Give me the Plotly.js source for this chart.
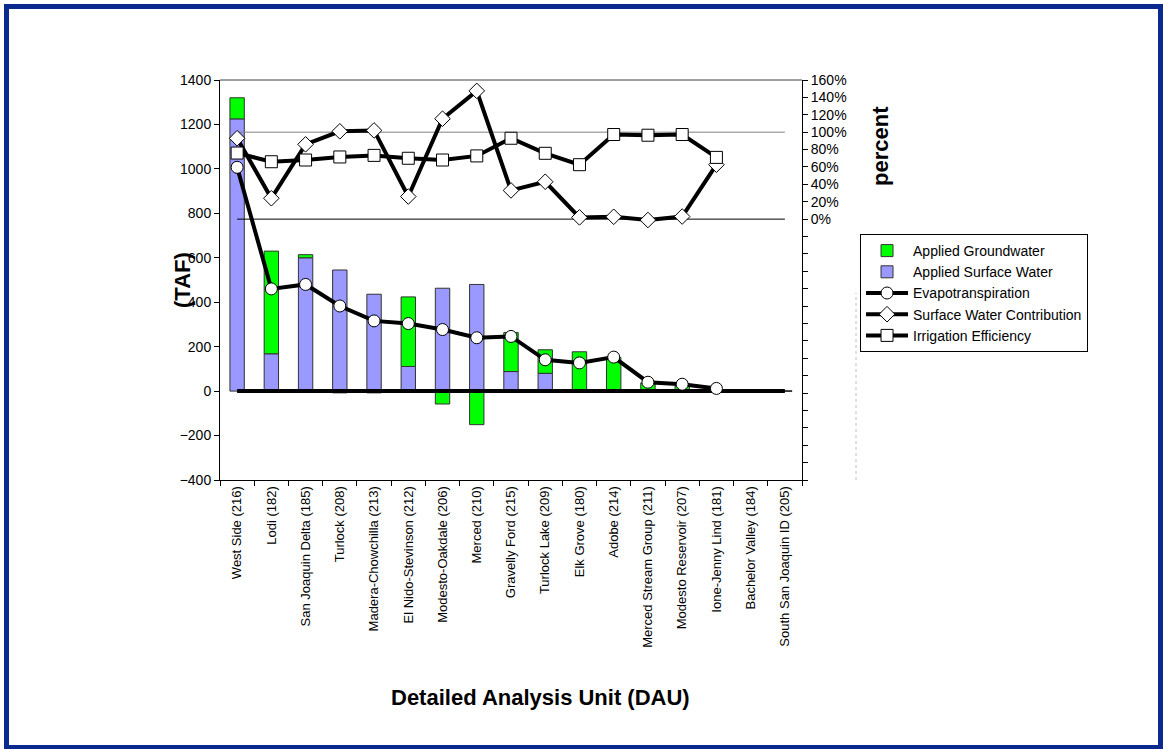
<!DOCTYPE html>
<html>
<head>
<meta charset="utf-8">
<script src="https://cdn.plot.ly/plotly-3.0.1.min.js"></script>
<style>
html,body{margin:0;padding:0;background:#fff;}
#chart{width:1164px;height:749px;}
</style>
</head>
<body>
<div id="chart"></div>
<script>
// Categories (DAU)
const categories = [
  "West Side (216)", "Lodi (182)", "San Joaquin Delta (185)", "Turlock (208)",
  "Madera-Chowchilla (213)", "El Nido-Stevinson (212)", "Modesto-Oakdale (206)",
  "Merced (210)", "Gravelly Ford (215)", "Turlock Lake (209)", "Elk Grove (180)",
  "Adobe (214)", "Merced Stream Group (211)", "Modesto Reservoir (207)",
  "Ione-Jenny Lind (181)", "Bachelor Valley (184)", "South San Joaquin ID (205)"
];
// Applied Surface Water (TAF)
const surfaceWater = [1225, 168, 600, 545, 436, 111, 463, 480, 88, 80, 0, 0, 0, 0, 0, 0, 0];
// Applied Groundwater (TAF)
const groundwater = [95, 462, 14, -8, -8, 313, -58, -151, 176, 106, 177, 152, 37, 22, 5, 0, 0];
// Evapotranspiration (TAF)
const evapotranspiration = [1007, 460, 480, 383, 316, 304, 277, 240, 246, 141, 127, 153, 40, 31, 12, null, null];
// Surface Water Contribution (fraction)
const surfaceWaterContribution = [0.93, 0.24, 0.86, 1.01, 1.02, 0.26, 1.155, 1.475, 0.33, 0.43, 0.02, 0.027, -0.01, 0.03, 0.626, null, null];
// Irrigation Efficiency (fraction)
const irrigationEfficiency = [0.76, 0.66, 0.68, 0.715, 0.733, 0.70, 0.68, 0.727, 0.93, 0.757, 0.626, 0.973, 0.965, 0.973, 0.71, null, null];
// Reference lines
const zeroTAF = categories.map(() => 0);
const ref100 = categories.map(() => 1.0);
const ref0 = categories.map(() => 0.0);
// Right axis ticks
const pctTickVals = [];
for (let i = -15; i <= 8; i++) pctTickVals.push(Math.round(i * 20) / 100);
const pctTickText = pctTickVals.map(v => v >= 0 ? Math.round(v * 100) + "%" : "");

const FONT = "Liberation Sans, Arial, sans-serif";

const traces = [
  {
    type: "bar", name: "Applied Surface Water", x: categories, y: surfaceWater,
    marker: {color: "#9999ff", line: {color: "#333333", width: 1}},
    width: 0.42, legendrank: 2, yaxis: "y"
  },
  {
    type: "bar", name: "Applied Groundwater", x: categories, y: groundwater,
    marker: {color: "#00ff00", line: {color: "#333333", width: 1}},
    width: 0.42, legendrank: 1, yaxis: "y"
  },
  {
    type: "scatter", mode: "lines", x: categories, y: zeroTAF, showlegend: false,
    line: {color: "#000000", width: 4}, hoverinfo: "skip", yaxis: "y"
  },
  {
    type: "scatter", mode: "lines+markers", name: "Evapotranspiration", x: categories, y: evapotranspiration,
    line: {color: "#000000", width: 4},
    marker: {symbol: "circle", size: 12, color: "#ffffff", line: {color: "#000000", width: 1}},
    legendrank: 3, yaxis: "y"
  },
  {
    type: "scatter", mode: "lines", x: categories, y: ref100, showlegend: false,
    line: {color: "#808080", width: 1}, hoverinfo: "skip", yaxis: "y2"
  },
  {
    type: "scatter", mode: "lines", x: categories, y: ref0, showlegend: false,
    line: {color: "#000000", width: 1}, hoverinfo: "skip", yaxis: "y2"
  },
  {
    type: "scatter", mode: "lines+markers", name: "Surface Water Contribution", x: categories, y: surfaceWaterContribution,
    line: {color: "#000000", width: 4},
    marker: {symbol: "diamond", size: 12, color: "#ffffff", line: {color: "#000000", width: 1}},
    legendrank: 4, yaxis: "y2"
  },
  {
    type: "scatter", mode: "lines+markers", name: "Irrigation Efficiency", x: categories, y: irrigationEfficiency,
    line: {color: "#000000", width: 4},
    marker: {symbol: "square", size: 12, color: "#ffffff", line: {color: "#000000", width: 1}},
    legendrank: 5, yaxis: "y2"
  }
];

const layout = {
  width: 1164, height: 749,
  margin: {l: 220, r: 362, t: 80, b: 269},
  paper_bgcolor: "#ffffff", plot_bgcolor: "#ffffff",
  font: {family: FONT, size: 13, color: "#000000"},
  barmode: "relative",
  showlegend: true,
  xaxis: {
    type: "category", tickangle: -90, showgrid: false, zeroline: false,
    showline: true, linecolor: "#000000", linewidth: 1, mirror: false,
    ticks: "outside", tickson: "boundaries", ticklen: 5, tickcolor: "#000000",
    tickfont: {family: FONT, size: 13}, range: [-0.5, 16.5]
  },
  yaxis: {
    range: [-400, 1400], dtick: 200, showgrid: false, zeroline: false,
    showline: true, linecolor: "#000000", linewidth: 1,
    ticks: "outside", ticklen: 5, tickcolor: "#000000",
    tickfont: {family: FONT, size: 14}
  },
  yaxis2: {
    overlaying: "y", side: "right", range: [-3.0, 1.6],
    tickmode: "array", tickvals: pctTickVals, ticktext: pctTickText,
    showgrid: false, zeroline: false,
    showline: true, linecolor: "#000000", linewidth: 1,
    ticks: "outside", ticklen: 5, tickcolor: "#000000",
    tickfont: {family: FONT, size: 14}
  },
  legend: {
    x: 1.0997, y: 0.615, xanchor: "left", yanchor: "top",
    bgcolor: "#ffffff", bordercolor: "#000000", borderwidth: 1,
    font: {family: FONT, size: 14}, tracegroupgap: 0, itemwidth: 42
  },
  annotations: [
    {text: "<b>(TAF)</b>", xref: "paper", yref: "paper", x: (182 - 220) / 582, y: 0.5,
     xanchor: "center", yanchor: "middle",
     textangle: -90, showarrow: false, font: {family: FONT, size: 22}},
    {text: "<b>percent</b>", xref: "paper", yref: "paper", x: (880 - 220) / 582, y: (480 - 146) / 400,
     xanchor: "center", yanchor: "middle",
     textangle: -90, showarrow: false, font: {family: FONT, size: 22}},
    {text: "<b>Detailed Analysis Unit (DAU)</b>", xref: "paper", yref: "paper", x: (540 - 220) / 582, y: (480 - 697) / 400,
     xanchor: "center", yanchor: "middle",
     showarrow: false, font: {family: FONT, size: 22}}
  ],
  shapes: [
    {type: "line", xref: "paper", yref: "paper", x0: 0, x1: 1, y0: 1, y1: 1,
     line: {color: "#404040", width: 1}},
    {type: "line", xref: "paper", yref: "paper", x0: (856 - 220) / 582, x1: (856 - 220) / 582, y0: 0, y1: (480 - 293) / 400,
     line: {color: "#c0c0c0", width: 1, dash: "dot"}},
    {type: "rect", xref: "paper", yref: "paper",
     x0: (6.5 - 220) / 582, x1: (1160.5 - 220) / 582, y0: (480 - 6.5) / 400, y1: (480 - 747.5) / 400,
     line: {color: "#0a2a8f", width: 5}, fillcolor: "rgba(0,0,0,0)"}
  ]
};

Plotly.newPlot("chart", traces, layout, {displayModeBar: false, staticPlot: true});
</script>
</body>
</html>
